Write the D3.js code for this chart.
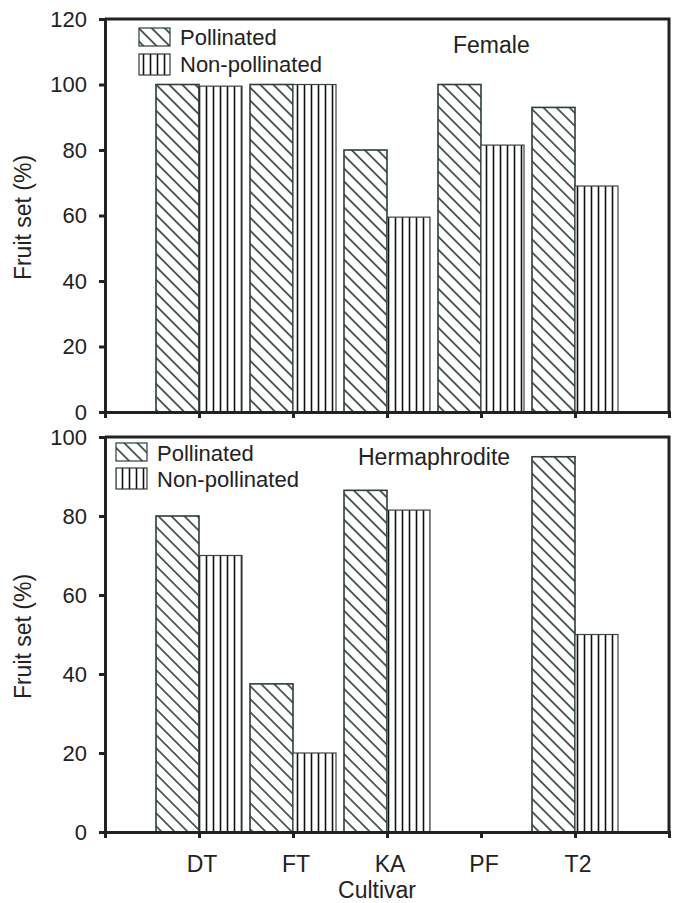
<!DOCTYPE html>
<html><head><meta charset="utf-8">
<script src="https://cdn.jsdelivr.net/npm/d3@7"></script>
<style>body{margin:0;background:#fff}text{font-family:"Liberation Sans",Arial,sans-serif;fill:#222}</style>
</head><body>
<script>
const categories = ["DT","FT","KA","PF","T2"];
const femalePollinated = [100,100,80,100,93];
const femaleNonPollinated = [99.5,100,59.5,81.5,69];
const hermPollinated = [80,37.5,86.5,0,95];
const hermNonPollinated = [70,20,81.5,0,50];
const topTicks = [0,20,40,60,80,100,120];
const bottomTicks = [0,20,40,60,80,100];
const seriesNames = ["Pollinated","Non-pollinated"];

const W=678,H=903;
const svg=d3.select("body").append("svg").attr("width",W).attr("height",H);
const defs=svg.append("defs");
const dg=defs.append("pattern").attr("id","diag").attr("patternUnits","userSpaceOnUse")
  .attr("width",9.2).attr("height",9.2).attr("patternTransform","rotate(45)");
dg.append("rect").attr("width",9.2).attr("height",9.2).attr("fill","#fff");
dg.append("line").attr("x1",0).attr("x2",9.2).attr("y1",4.6).attr("y2",4.6).attr("stroke","#2e3d3d").attr("stroke-width",1.6);
const vp=defs.append("pattern").attr("id","vert").attr("patternUnits","userSpaceOnUse")
  .attr("width",7).attr("height",10);
vp.append("rect").attr("width",7).attr("height",10).attr("fill","#fff");
vp.append("line").attr("x1",3.5).attr("x2",3.5).attr("y1",0).attr("y2",10).attr("stroke","#111").attr("stroke-width",1.6);

const x=d3.scaleLinear().domain([0,6]).range([105,669]);
const bw=43;

function panel(top,bottom,ymax,ticks,poll,non,title,titleX,titleY,legX,legY,legTextY){
  const y=d3.scaleLinear().domain([0,ymax]).range([bottom,top]);
  const g=svg.append("g");
  categories.forEach((c,i)=>{
    const cx=x(i+1);
    if(poll[i]>0) g.append("rect").attr("x",cx-bw).attr("y",y(poll[i])).attr("width",bw).attr("height",y(0)-y(poll[i]))
      .attr("fill","url(#diag)").attr("stroke","#2e3d3d").attr("stroke-width",1.6);
    if(non[i]>0) g.append("rect").attr("x",cx).attr("y",y(non[i])).attr("width",bw).attr("height",y(0)-y(non[i]))
      .attr("fill","url(#vert)").attr("stroke","#3a4646").attr("stroke-width",1.2);
  });
  g.append("path").attr("d",`M${x(0)},${top}H${x(6)}V${bottom}`).attr("fill","none").attr("stroke","#222").attr("stroke-width",3);
  const ya=g.append("g").attr("transform",`translate(${x(0)},0)`).call(d3.axisLeft(y).tickValues(ticks).tickSize(6).tickPadding(12));
  ya.select(".domain").attr("stroke","#222").attr("stroke-width",3);
  ya.selectAll(".tick line").attr("stroke","#222").attr("stroke-width",3);
  ya.selectAll("text").style("font-size","22px").style("font-family","Liberation Sans, Arial, sans-serif").attr("fill","#222");
  const xa=g.append("g").attr("transform",`translate(0,${bottom})`).call(d3.axisBottom(x).ticks(6).tickSize(6).tickFormat(""));
  xa.select(".domain").attr("stroke","#222").attr("stroke-width",3);
  xa.selectAll(".tick line").attr("stroke","#222").attr("stroke-width",3);
  g.append("text").attr("transform",`translate(31,${(top+bottom)/2+2}) rotate(-90)`).attr("text-anchor","middle")
    .style("font-size","23px").text("Fruit set (%)");
  g.append("text").attr("x",titleX).attr("y",titleY).style("font-size","23px").text(title);
  const fills=["url(#diag)","url(#vert)"];
  seriesNames.forEach((s,k)=>{
    g.append("rect").attr("x",legX).attr("y",legY[k]).attr("width",31).attr("height",k?21:18)
      .attr("fill",fills[k]).attr("stroke","#2e3d3d").attr("stroke-width",1.2);
    g.append("text").attr("x",legX+41).attr("y",legTextY[k]).style("font-size","22px").text(s);
  });
  return y;
}

panel(19,412,120,topTicks,femalePollinated,femaleNonPollinated,"Female",453,53,139,[28,54],[45,72]);
panel(437,832,100,bottomTicks,hermPollinated,hermNonPollinated,"Hermaphrodite",358,465,116,[443,468],[461,487]);

svg.append("g").selectAll("text").data(categories).join("text")
  .attr("x",(d,i)=>x(i+1)+3).attr("y",872).attr("text-anchor","middle").style("font-size","23px").text(d=>d);
svg.append("text").attr("x",377).attr("y",898).attr("text-anchor","middle").style("font-size","23px").text("Cultivar");
</script>
</body></html>
